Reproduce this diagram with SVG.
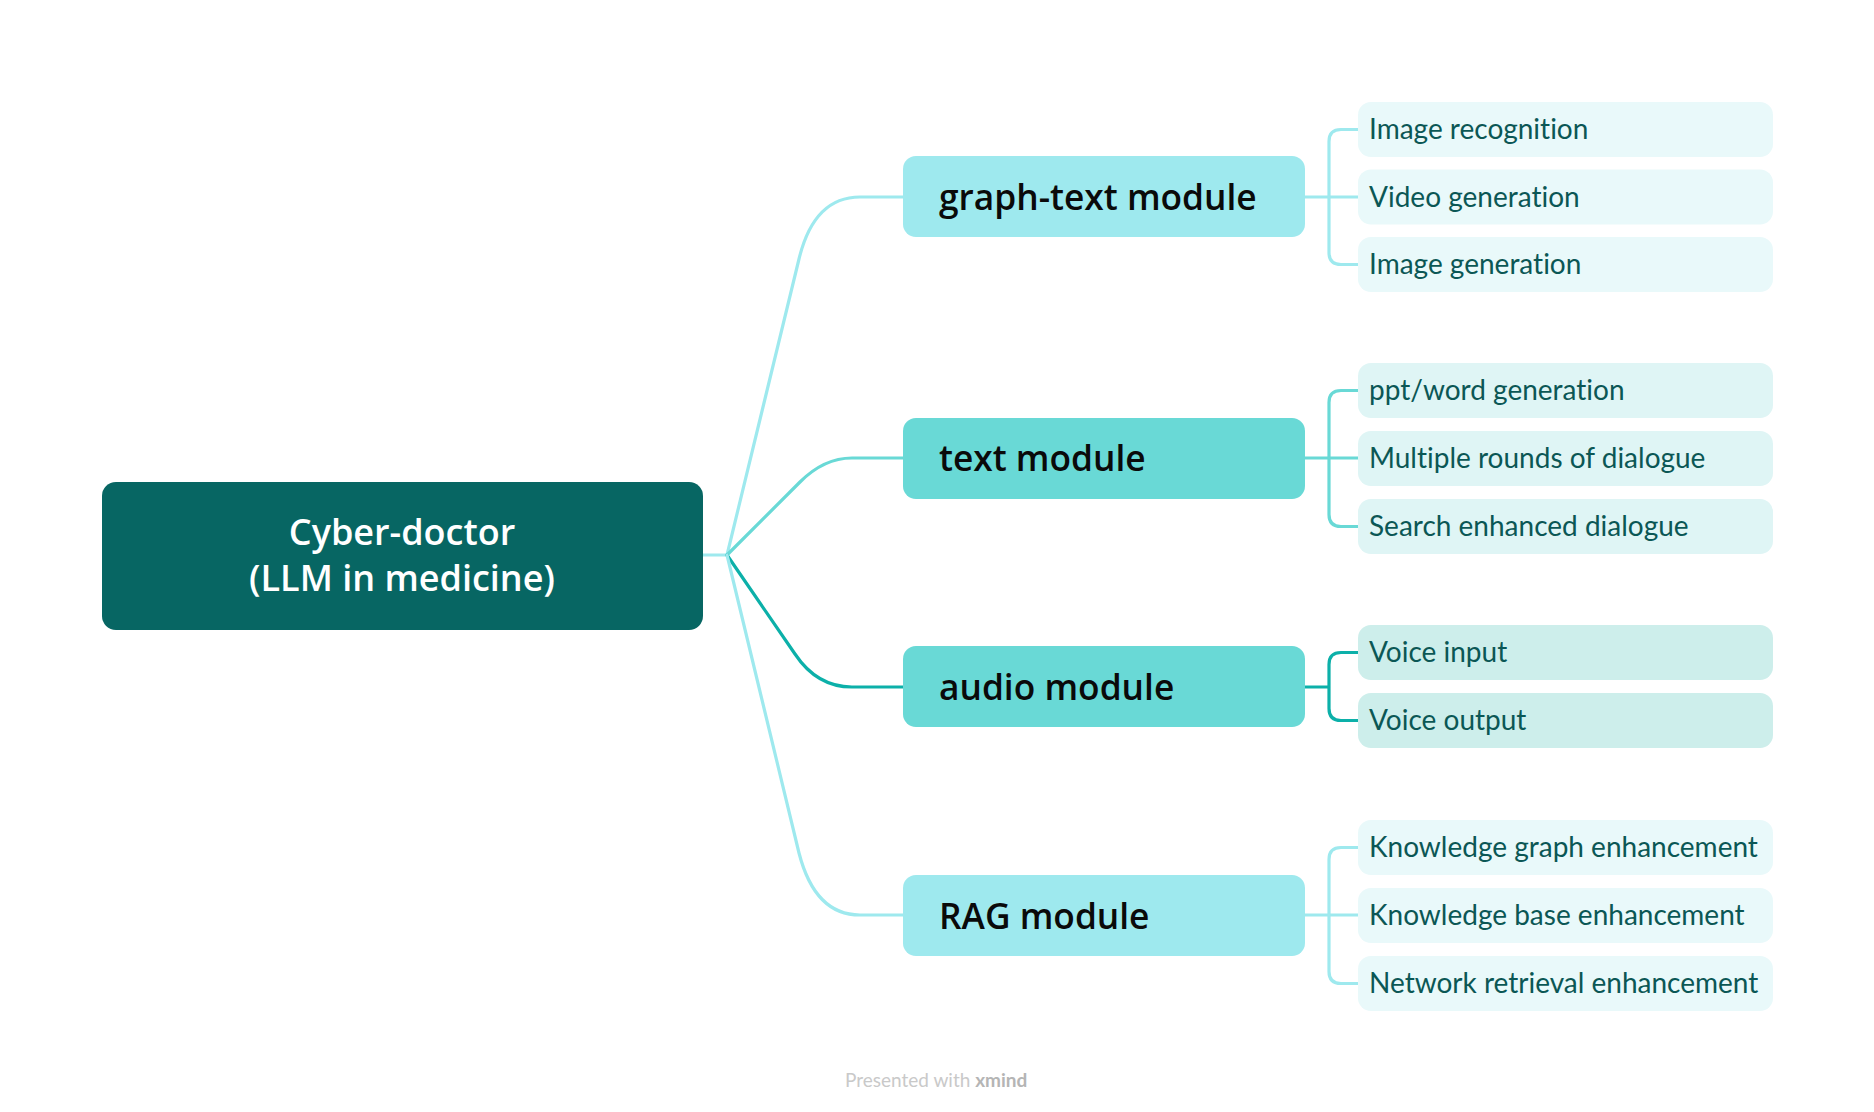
<svg xmlns="http://www.w3.org/2000/svg" width="1874" height="1112" viewBox="0 0 1874 1112">
<style>
.root{fill:#076663}
.roottxt{font-family:"Open Sans","Liberation Sans",sans-serif;font-weight:600;font-size:36px;fill:#ffffff;text-anchor:middle}
.mod{font-family:"Open Sans","Liberation Sans",sans-serif;font-weight:600;font-size:35.3px;fill:#0a0a0a}
.leaf{font-family:"Lato","Open Sans","Liberation Sans",sans-serif;font-weight:400;font-size:28px;fill:#0b5755;font-variant-ligatures:none}
.c{fill:none;stroke-width:3.2;stroke-linecap:round;stroke-linejoin:round}
.light{stroke:#9ee9ee}
.mid{stroke:#69d9d6}
.dark{stroke:#0cb0a9}
.m1{fill:#9ee9ee}
.m2{fill:#69d9d6}
.l1{fill:#e9f9fa}
.l2{fill:#dff5f5}
.l3{fill:#cdeeeb}
.foot{font-family:"Lato","Open Sans","Liberation Sans",sans-serif;font-size:19px;fill:#c9c9c9;font-variant-ligatures:none}
</style>
<g id="connectors">
<path class="c light" d="M703,555 L727,555"/>
<path class="c light" d="M727,555 L799,259 Q814,197 860,197 L904,197"/>
<path class="c mid" d="M727,555 L800,482 Q824,458 852,458 L904,458"/>
<path class="c dark" d="M727,555 L795,654 Q817,687 852,687 L904,687"/>
<path class="c light" d="M727,555 L799,853 Q815,915 860,915 L904,915"/>
<path class="c light" d="M1305,197 L1358,197 M1358,129.5 L1341,129.5 Q1329,129.5 1329,141.5 L1329,252.5 Q1329,264.5 1341,264.5 L1358,264.5"/>
<path class="c mid" d="M1305,458 L1358,458 M1358,390.5 L1341,390.5 Q1329,390.5 1329,402.5 L1329,514.5 Q1329,526.5 1341,526.5 L1358,526.5"/>
<path class="c dark" d="M1305,687 L1329,687 M1358,652.5 L1341,652.5 Q1329,652.5 1329,664.5 L1329,708.5 Q1329,720.5 1341,720.5 L1358,720.5"/>
<path class="c light" d="M1305,915 L1358,915 M1358,847.5 L1341,847.5 Q1329,847.5 1329,859.5 L1329,971.5 Q1329,983.5 1341,983.5 L1358,983.5"/>
</g>
<g id="root">
<rect class="root" x="102" y="482" width="601" height="148" rx="14"/>
<text class="roottxt" x="402" y="545" font-size="37">Cyber-doctor</text>
<text class="roottxt" x="402" y="591" font-size="35">(LLM in medicine)</text>
</g>
<g id="graph-text-module">
<rect class="m1" x="903" y="156" width="402" height="81" rx="13"/>
<text class="mod" x="939" y="210">graph-text module</text>
</g>
<g id="text-module">
<rect class="m2" x="903" y="418" width="402" height="81" rx="13"/>
<text class="mod" x="939" y="471">text module</text>
</g>
<g id="audio-module">
<rect class="m2" x="903" y="646" width="402" height="81" rx="13"/>
<text class="mod" x="939" y="700">audio module</text>
</g>
<g id="rag-module">
<rect class="m1" x="903" y="875" width="402" height="81" rx="13"/>
<text class="mod" x="939" y="929">RAG module</text>
</g>
<g id="leaf-image-recognition"><rect class="l1" x="1358" y="102" width="415" height="55" rx="13"/><text class="leaf" x="1369" y="139">Image recognition</text></g>
<g id="leaf-video-generation"><rect class="l1" x="1358" y="169.5" width="415" height="55" rx="13"/><text class="leaf" x="1369" y="207">Video generation</text></g>
<g id="leaf-image-generation"><rect class="l1" x="1358" y="237" width="415" height="55" rx="13"/><text class="leaf" x="1369" y="274">Image generation</text></g>
<g id="leaf-ppt-word"><rect class="l2" x="1358" y="363" width="415" height="55" rx="13"/><text class="leaf" x="1369" y="400">ppt/word generation</text></g>
<g id="leaf-multiple-rounds"><rect class="l2" x="1358" y="431" width="415" height="55" rx="13"/><text class="leaf" x="1369" y="468">Multiple rounds of dialogue</text></g>
<g id="leaf-search-enhanced"><rect class="l2" x="1358" y="499" width="415" height="55" rx="13"/><text class="leaf" x="1369" y="536">Search enhanced dialogue</text></g>
<g id="leaf-voice-input"><rect class="l3" x="1358" y="625" width="415" height="55" rx="13"/><text class="leaf" x="1369" y="662">Voice input</text></g>
<g id="leaf-voice-output"><rect class="l3" x="1358" y="693" width="415" height="55" rx="13"/><text class="leaf" x="1369" y="730">Voice output</text></g>
<g id="leaf-kg"><rect class="l1" x="1358" y="820" width="415" height="55" rx="13"/><text class="leaf" x="1369" y="857">Knowledge graph enhancement</text></g>
<g id="leaf-kb"><rect class="l1" x="1358" y="888" width="415" height="55" rx="13"/><text class="leaf" x="1369" y="925">Knowledge base enhancement</text></g>
<g id="leaf-network"><rect class="l1" x="1358" y="956" width="415" height="55" rx="13"/><text class="leaf" x="1369" y="993">Network retrieval enhancement</text></g>
<text class="foot" x="845" y="1087">Presented with <tspan font-weight="700" fill="#b5b5b5">xmind</tspan></text>
</svg>
